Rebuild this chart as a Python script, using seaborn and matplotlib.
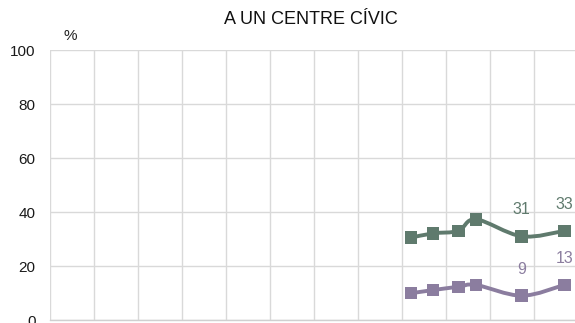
import numpy as np
import pandas as pd
import matplotlib
matplotlib.use("Agg")
import matplotlib.pyplot as plt
from matplotlib.path import Path
from matplotlib.patches import PathPatch
import seaborn as sns

# Survey waves (fractional year) and share of respondents (%)
waves = [2013.2, 2013.71, 2014.28, 2014.68, 2015.72, 2016.69]
green_vals = [30.5, 32.1, 33.0, 37.3, 31, 33]
purple_vals = [9.9, 11.1, 12.3, 13.0, 9, 13]
labelled_idx = [4, 5]
yticks = [0, 20, 40, 60, 80, 100]
title = "A UN CENTRE CÍVIC"
unit = "%"

GREEN = "#5f7a6d"
PURPLE = "#8b7d9f"

sns.set_theme(style="white")
plt.rcParams["font.family"] = ["Liberation Sans", "DejaVu Sans"]

df = pd.concat([
    pd.DataFrame({"wave": waves, "value": green_vals, "serie": "a"}),
    pd.DataFrame({"wave": waves, "value": purple_vals, "serie": "b"}),
])

fig = plt.figure(figsize=(5.75, 3.23), dpi=100)
ax = fig.add_axes([50 / 575, 3 / 323, 528 / 575, 270 / 323])


def smooth_path(xs, ys):
    """Cubic Bezier path through the points (Catmull-Rom tangents)."""
    pts = np.column_stack([xs, ys]).astype(float)
    n = len(pts)
    verts = [pts[0]]
    codes = [Path.MOVETO]
    for i in range(n - 1):
        p0 = pts[i - 1] if i > 0 else pts[i]
        p1 = pts[i]
        p2 = pts[i + 1]
        p3 = pts[i + 2] if i + 2 < n else pts[i + 1]
        c1 = p1 + (p2 - p0) / 6
        c2 = p2 - (p3 - p1) / 6
        verts += [c1, c2, p2]
        codes += [Path.CURVE4] * 3
    return Path(verts, codes)


for vals, col in [(green_vals, GREEN), (purple_vals, PURPLE)]:
    ax.add_patch(PathPatch(smooth_path(waves, vals), facecolor="none",
                           edgecolor=col, lw=2.8, capstyle="round",
                           joinstyle="round", zorder=3))

sns.scatterplot(data=df, x="wave", y="value", hue="serie",
                palette={"a": GREEN, "b": PURPLE}, marker="s", s=80,
                edgecolor="none", linewidth=0, legend=False, ax=ax, zorder=4)

for vals, col in [(green_vals, GREEN), (purple_vals, PURPLE)]:
    for i in labelled_idx:
        ax.annotate(f"{vals[i]:g}", (waves[i], vals[i]), xytext=(0, 19),
                    textcoords="offset points", ha="center", va="center",
                    fontsize=11.5, color=col)

ax.set_xlim(2005, 2017)
ax.set_ylim(0, 100)
ax.set_xticks(np.arange(2005, 2018, 1))
ax.set_yticks(yticks)
ax.set_xticklabels([])
ax.set_xlabel("")
ax.set_ylabel("")
ax.grid(True, color="#d9d9d9", lw=1)
ax.tick_params(axis="y", length=0, pad=10.5, labelsize=11, labelcolor="#1a1a1a")
ax.tick_params(axis="x", length=0)
for side in ["top", "right", "left"]:
    ax.spines[side].set_visible(False)
ax.spines["bottom"].set_color("#d0d0d0")
ax.spines["bottom"].set_linewidth(1)

fig.text(311 / 575, (323 - 24.3) / 323, title, ha="center", va="baseline",
         fontsize=13, color="#111111")
fig.text(70 / 575, (323 - 40.5) / 323, unit, ha="center", va="baseline",
         fontsize=11, color="#222222")

fig.savefig("out.png", dpi=100)
